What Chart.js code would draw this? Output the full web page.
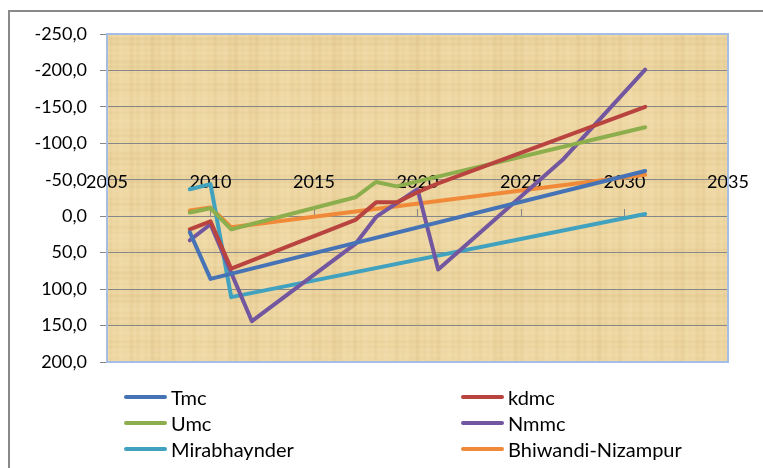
<!DOCTYPE html>
<html>
<head>
<meta charset="utf-8">
<script src="https://cdn.jsdelivr.net/npm/chart.js@4/dist/chart.umd.min.js"></script>
<style>
html,body{margin:0;padding:0;background:#fff;}
#wrap{position:relative;width:763px;height:468px;overflow:hidden;}
#c{position:absolute;left:0;top:0;}
#legend{position:absolute;left:0;top:0;width:763px;height:468px;pointer-events:none;font-family:Lato,"Open Sans",sans-serif;font-size:20px;color:#000;}
.item{position:absolute;height:26px;display:flex;align-items:center;white-space:nowrap;}
.sw{width:43px;height:4px;border-radius:2px;margin-right:4px;}
</style>
</head>
<body>
<div id="wrap">
<canvas id="c" width="763" height="468"></canvas>
<div id="legend"></div>
</div>
<script>
// ---- data ----
const seriesNames = ["Tmc", "kdmc", "Umc", "Nmmc", "Mirabhaynder", "Bhiwandi-Nizampur"];

const tmcYears = [2009, 2010, 2031];
const tmcValues = [22, 86, -62];

const kdmcYears = [2009, 2010, 2011, 2017, 2018, 2019, 2020, 2021, 2031];
const kdmcValues = [18, 7, 72, 5, -19, -19, -33, -45, -150];

const umcYears = [2009, 2010, 2011, 2017, 2018, 2019, 2031];
const umcValues = [-5, -11, 18, -26, -47, -41, -122];

const nmmcYears = [2009, 2010, 2012, 2017, 2018, 2020, 2021, 2024, 2027, 2031];
const nmmcValues = [33, 11, 144, 38, 1, -37, 73, -2, -77, -201];

const miraYears = [2009, 2010, 2011, 2031];
const miraValues = [-37, -44, 111, -3];

const bhiwYears = [2009, 2010, 2011, 2031];
const bhiwValues = [-8, -12, 15, -57];

const xTickMin = 2005, xTickMax = 2035, xTickStep = 5;
const yTickMin = -250, yTickMax = 200, yTickStep = 50;

const colors = ["#4573b5", "#b8433f", "#8cae4c", "#7256a0", "#41a2bf", "#f08a38"];

// ---- build ----
function pts(xs, ys){ return xs.map((x,i)=>({x:x, y:ys[i]})); }
const allSeries = [
  pts(tmcYears, tmcValues),
  pts(kdmcYears, kdmcValues),
  pts(umcYears, umcValues),
  pts(nmmcYears, nmmcValues),
  pts(miraYears, miraValues),
  pts(bhiwYears, bhiwValues)
];

const FONT = 'Lato, "Open Sans", sans-serif';
const GRID = '#878787';

const bgPlugin = {
  id: 'bg',
  beforeDraw(chart){
    const ctx = chart.ctx, a = chart.chartArea;
    ctx.save();
    ctx.fillStyle = '#fff';
    ctx.fillRect(0,0,chart.width,chart.height);
    // outer frame (left & top visible)
    ctx.strokeStyle = '#898989';
    ctx.lineWidth = 2;
    ctx.beginPath();
    ctx.moveTo(9, chart.height + 5);
    ctx.lineTo(9, 11);
    ctx.lineTo(chart.width + 5, 11);
    ctx.stroke();
    // parchment fill
    ctx.fillStyle = '#eed7a2';
    ctx.fillRect(a.left, a.top, a.right - a.left, a.bottom - a.top);
    ctx.beginPath(); ctx.rect(a.left, a.top, a.right-a.left, a.bottom-a.top); ctx.clip();
    for (let x = a.left; x < a.right; x += 1) {
      const s = Math.sin(x*0.9) + Math.sin(x*0.31+1.3) + 0.6*Math.sin(x*0.071);
      const alpha = Math.abs(s) * 0.05;
      ctx.fillStyle = s > 0 ? 'rgba(255,242,210,'+alpha+')' : 'rgba(185,145,80,'+alpha+')';
      ctx.fillRect(x, a.top, 1, a.bottom - a.top);
    }
    for (let y = a.top; y < a.bottom; y += 1) {
      const s = Math.sin(y*1.1+0.4) + Math.sin(y*0.27) + 0.6*Math.sin(y*0.053+2);
      const alpha = Math.abs(s) * 0.045;
      ctx.fillStyle = s > 0 ? 'rgba(255,242,210,'+alpha+')' : 'rgba(185,145,80,'+alpha+')';
      ctx.fillRect(a.left, y, a.right - a.left, 1);
    }
    ctx.restore();
  },
  afterDraw(chart){
    const ctx = chart.ctx, a = chart.chartArea;
    ctx.save();
    ctx.strokeStyle = '#a6bde5';
    ctx.lineWidth = 2;
    ctx.strokeRect(a.left, a.top, a.right - a.left, a.bottom - a.top);
    ctx.restore();
  }
};

new Chart(document.getElementById('c'), {
  type: 'line',
  data: {
    datasets: allSeries.map((d,i)=>({
      label: seriesNames[i],
      data: d,
      borderColor: colors[i],
      backgroundColor: colors[i],
      borderWidth: 4,
      pointRadius: 0,
      tension: 0,
      fill: false,
      borderCapStyle: 'round',
      borderJoinStyle: 'round'
    }))
  },
  options: {
    responsive: false,
    animation: false,
    layout: { padding: { left: 0, top: 34, right: 35, bottom: 106 } },
    plugins: { legend: { display: false }, tooltip: { enabled: false } },
    scales: {
      x: {
        type: 'linear',
        min: xTickMin, max: xTickMax,
        position: { y: 0 },
        ticks: {
          stepSize: xTickStep, padding: -37, color: '#000',
          font: { family: FONT, size: 18 },
          maxRotation: 0, autoSkip: false,
          callback: v => String(v)
        },
        grid: { drawOnChartArea: false, drawTicks: true, tickLength: -8, color: GRID, lineWidth: 1 },
        border: { display: true, color: GRID, width: 1 }
      },
      y: {
        type: 'linear',
        reverse: true,
        min: yTickMin, max: yTickMax,
        ticks: {
          stepSize: yTickStep, padding: 13, color: '#000',
          font: { family: FONT, size: 18 },
          callback: v => Number(v).toFixed(1).replace('.', ',')
        },
        grid: { color: GRID, lineWidth: 1, tickLength: 7, drawTicks: true },
        border: { display: false },
        afterFit(s){ s.width = 107; }
      }
    }
  },
  plugins: [bgPlugin]
});

// HTML legend, two columns
const leg = document.getElementById('legend');
const colX = [124, 461];
const rowY = [397, 423, 449];
seriesNames.forEach((n,i)=>{
  const el = document.createElement('div');
  el.className = 'item';
  el.style.left = colX[i%2] + 'px';
  el.style.top = (rowY[Math.floor(i/2)] - 13) + 'px';
  el.innerHTML = '<span class="sw" style="background:'+colors[i]+'"></span><span>'+n+'</span>';
  leg.appendChild(el);
});
</script>
</body>
</html>
